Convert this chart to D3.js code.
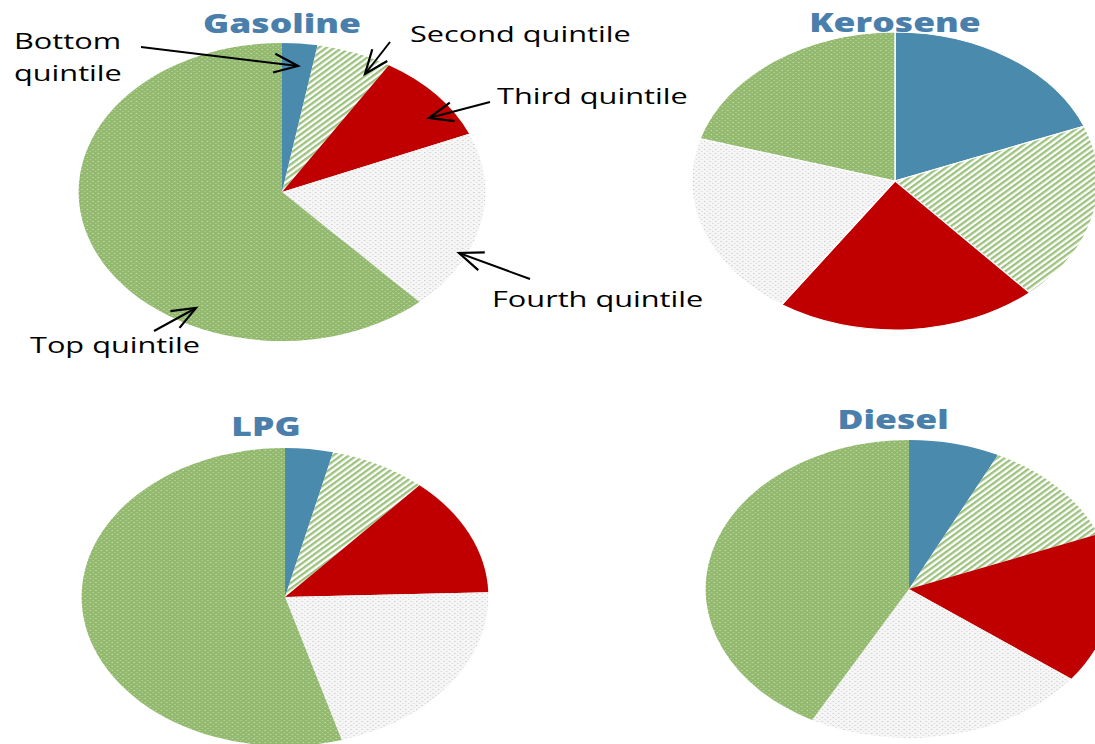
<!DOCTYPE html>
<html>
<head>
<meta charset="utf-8">
<script src="https://cdn.jsdelivr.net/npm/d3@7"></script>
<style>
  html, body { margin: 0; padding: 0; background: #fff; }
  svg { display: block; }
</style>
</head>
<body>
<svg id="chart" width="1095" height="744"></svg>
<script>
// Share of fuel consumption by income quintile (percent)
const categories = ["Bottom quintile", "Second quintile", "Third quintile", "Fourth quintile", "Top quintile"];
const fuels = ["Gasoline", "Kerosene", "LPG", "Diesel"];
const gasoline = [2.8, 6.0, 9.8, 19.6, 61.8];
const kerosene = [19.0, 19.5, 20.9, 20.2, 20.4];
const lpg = [3.8, 7.7, 13.0, 21.0, 54.5];
const diesel = [7.2, 11.8, 16.3, 22.6, 42.1];
const seriesValues = [gasoline, kerosene, lpg, diesel];

// Layout
const SX = 1.365;          // horizontal stretch of the whole figure
const R = 149;             // pie radius before stretch
const layout = [
  { cx: 282, cy: 192, tx: 282, ty: 33 },
  { cx: 895, cy: 181, tx: 895, ty: 32 },
  { cx: 285, cy: 597, tx: 266, ty: 436 },
  { cx: 909, cy: 589, tx: 893, ty: 429 }
];

const svg = d3.select("#chart");
const defs = svg.append("defs");

// Fill patterns
// Top quintile: green with white dots
const pGreen = defs.append("pattern").attr("id", "pGreen")
  .attr("patternUnits", "userSpaceOnUse").attr("width", 4).attr("height", 4);
pGreen.append("rect").attr("width", 4).attr("height", 4).attr("fill", "#93b96f");
pGreen.append("rect").attr("x", 1).attr("y", 1).attr("width", 1).attr("height", 1).attr("fill", "#c9dfb6");
pGreen.append("rect").attr("x", 3).attr("y", 3).attr("width", 1).attr("height", 1).attr("fill", "#b4d29c");

// Second quintile: green diagonal stripes on white
const pStripe = defs.append("pattern").attr("id", "pStripe")
  .attr("patternUnits", "userSpaceOnUse").attr("width", 4).attr("height", 4)
  .attr("patternTransform", "rotate(45)");
pStripe.append("rect").attr("width", 4).attr("height", 4).attr("fill", "#ffffff");
pStripe.append("rect").attr("width", 2).attr("height", 4).attr("fill", "#9cc27e");

// Fourth quintile: light grey dotted
const pGrey = defs.append("pattern").attr("id", "pGrey")
  .attr("patternUnits", "userSpaceOnUse").attr("width", 4).attr("height", 4);
pGrey.append("rect").attr("width", 4).attr("height", 4).attr("fill", "#f6f6f6");
pGrey.append("rect").attr("x", 0).attr("y", 0).attr("width", 1).attr("height", 1).attr("fill", "#c8c8c8");
pGrey.append("rect").attr("x", 2).attr("y", 2).attr("width", 1).attr("height", 1).attr("fill", "#d8d8d8");

const color = d3.scaleOrdinal()
  .domain(categories)
  .range(["#4a8aad", "url(#pStripe)", "#c00000", "url(#pGrey)", "url(#pGreen)"]);

const pie = d3.pie().sort(null).value(d => d.value);
const arc = d3.arc().innerRadius(0).outerRadius(R);

fuels.forEach((fuel, i) => {
  const L = layout[i];
  const data = categories.map((c, k) => ({ cat: c, value: seriesValues[i][k] }));
  const g = svg.append("g")
    .attr("transform", `translate(${L.cx},${L.cy}) scale(${SX},1)`);
  g.selectAll("path")
    .data(pie(data))
    .join("path")
    .attr("d", arc)
    .attr("fill", d => color(d.data.cat))
    .attr("stroke", fuel === "Kerosene" ? "#fff" : "none")
    .attr("stroke-width", fuel === "Kerosene" ? 1 : 0);

  svg.append("g")
    .attr("transform", `translate(${L.tx},${L.ty}) scale(${SX},1)`)
    .append("text")
    .attr("text-anchor", "middle")
    .attr("font-family", "'Open Sans', sans-serif")
    .attr("font-weight", 800)
    .attr("font-size", 26)
    .attr("fill", "#4a7fab")
    .text(fuel);
});

// Annotations for the gasoline pie
const labelLines = [
  { lines: ["Bottom", "quintile"], x: 14, y: 49 },
  { lines: ["Second quintile"], x: 410, y: 42 },
  { lines: ["Third quintile"], x: 497, y: 104 },
  { lines: ["Fourth quintile"], x: 492, y: 307 },
  { lines: ["Top quintile"], x: 30, y: 353 }
];
const arrows = [
  { x1: 141, y1: 47, x2: 298, y2: 66 },
  { x1: 390, y1: 42, x2: 365, y2: 74 },
  { x1: 490, y1: 102, x2: 429, y2: 118 },
  { x1: 530, y1: 279, x2: 459, y2: 253 },
  { x1: 154, y1: 331, x2: 196, y2: 308 }
];

defs.append("marker").attr("id", "head")
  .attr("markerUnits", "userSpaceOnUse")
  .attr("viewBox", "-26 -12 30 24")
  .attr("refX", 0).attr("refY", 0)
  .attr("markerWidth", 30).attr("markerHeight", 24)
  .attr("orient", "auto")
  .append("path")
  .attr("d", "M-24,-9.5 L0,0 L-24,9.5")
  .attr("fill", "none")
  .attr("stroke", "#000")
  .attr("stroke-width", 2.2);

svg.append("g").selectAll("line")
  .data(arrows)
  .join("line")
  .attr("x1", d => d.x1).attr("y1", d => d.y1)
  .attr("x2", d => d.x2).attr("y2", d => d.y2)
  .attr("stroke", "#000")
  .attr("stroke-width", 2)
  .attr("marker-end", "url(#head)");

labelLines.forEach(lb => {
  const t = svg.append("g")
    .attr("transform", `translate(${lb.x},${lb.y}) scale(${SX},1)`)
    .append("text")
    .attr("font-family", "'Open Sans', sans-serif")
    .attr("font-size", 22.5)
    .attr("fill", "#000");
  lb.lines.forEach((s, j) => {
    t.append("tspan").attr("x", 0).attr("dy", j === 0 ? 0 : 32).text(s);
  });
});
</script>
</body>
</html>
